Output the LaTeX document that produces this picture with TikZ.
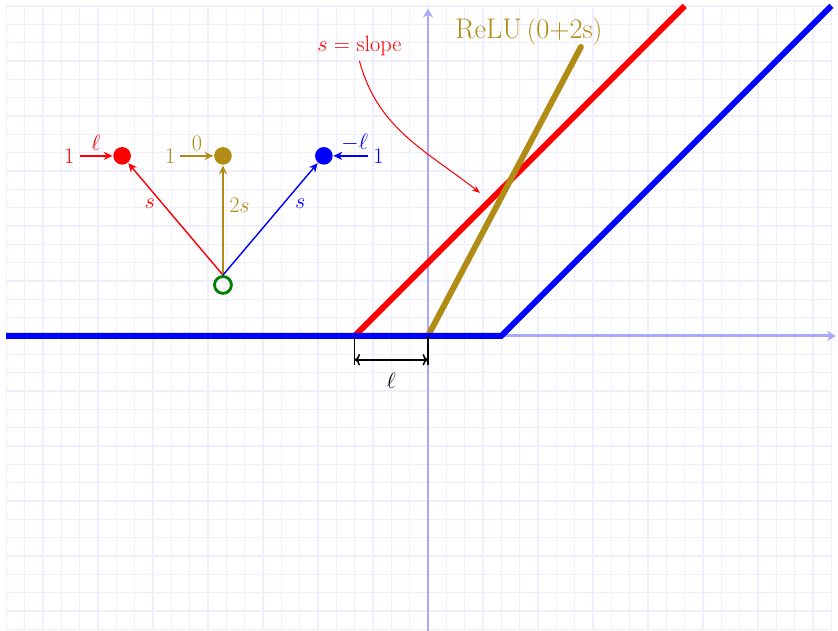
\documentclass[tikz,border=0pt]{standalone}
\usetikzlibrary{arrows.meta, positioning}
\definecolor{cgold}{HTML}{B08C14}
\definecolor{cgreen}{HTML}{008000}
\definecolor{caxis}{HTML}{A8A8FF}
\definecolor{cgrid}{HTML}{EEEEFF}
\tikzset{
  every picture/.style={line width=1.2pt},
  relu/.style={draw=#1, line width=4.6pt},
  dot/.style={circle, fill=#1, inner sep=0pt, minimum size=0.48cm},
  wire/.style={-{Stealth[length=2.4mm, width=2.2mm]}, draw=#1, line width=1.1pt},
  lab/.style={font=\LARGE, text=#1},
  lab/.default=black,
}
\begin{document}
\begin{tikzpicture}[axis/.style={draw=caxis, line width=2.3pt, -{Stealth[length=2.4mm, width=2.8mm]}},
                    x=1cm, y=1cm]
  \useasboundingbox (-11.67,-8.04) rectangle (11.18,9.16);
  \draw[cgrid, line width=1pt, step=0.5] (-11.5,-8) grid (11,9);
  % axes
  \coordinate (xl) at (-11.5,0);
  \coordinate (xr) at (11.12,0);
  \coordinate (yb) at (0,-8.04);
  \coordinate (yt) at (0,8.92);
  \draw[axis] (xl) -- (xr);
  \draw[axis] (yb) -- (yt);
  % the three ReLUs
  \draw[relu=red] (-2,0) -- (7,9);
  \draw[relu=cgold, line cap=round] (0,0) -- (4.17,7.88);
  \draw[relu=blue] (-11.5,0) -- (2,0) -- (11,9);
  \node[font=\fontsize{22}{26}\selectfont, text=cgold] (relulab) at (2.75,8.3) {ReLU\,$($0+2s$)$};
  % slope note
  \node[lab=red] (slope) at (-1.87,7.91) {$s=$ slope};
  \coordinate (stip) at (1.42,3.9);
  \draw[red, line width=0.8pt, -{Stealth[length=2.2mm]}] (slope.south) to[out=-75, in=142] (stip);
  % width of the shift
  \coordinate (m0) at (-2,0);
  \coordinate (m1) at (0,0);
  \coordinate (m0b) at (-2,-0.8);
  \coordinate (m1b) at (0,-0.8);
  \coordinate (la) at (-2,-0.65);
  \coordinate (lb) at (0,-0.65);
  \draw (m0) -- (m0b);
  \draw (m1) -- (m1b);
  \draw[{To}-{To}] (la) -- (lb) node[midway, below=0.22cm, lab] (ell) {$\ell$};
  % the little network
  \node[circle, draw=cgreen, line width=2.2pt, minimum size=0.46cm, inner sep=0pt] (g) at (-5.59,1.39) {};
  \node[dot=red] (rd) at (-8.34,4.91) {};
  \node[dot=cgold] (gd) at (-5.59,4.91) {};
  \node[dot=blue] (bd) at (-2.84,4.91) {};
  \node[lab=red, left=0.9cm of rd] (rin) {1};
  \node[lab=cgold, left=0.9cm of gd] (gin) {1};
  \node[lab=blue, right=0.95cm of bd] (bin) {1};
  \draw[wire=red] (rin) -- (rd) node[midway, above, lab=red] (rb) {$\ell$};
  \draw[wire=cgold] (gin) -- (gd) node[midway, above, lab=cgold] (gb) {$0$};
  \draw[wire=blue] (bin) -- (bd) node[midway, above, lab=blue, xshift=3pt] (bb) {$-\ell$};
  \foreach \d/\c/\t/\a/\s in {rd/red/s/east/-2pt, gd/cgold/2s/west/1pt, bd/blue/s/west/5pt}
    \draw[wire=\c] (g.north) -- (\d) node[pos=0.64, anchor=\a, lab=\c, xshift=\s] {$\t$};
\end{tikzpicture}
\end{document}
